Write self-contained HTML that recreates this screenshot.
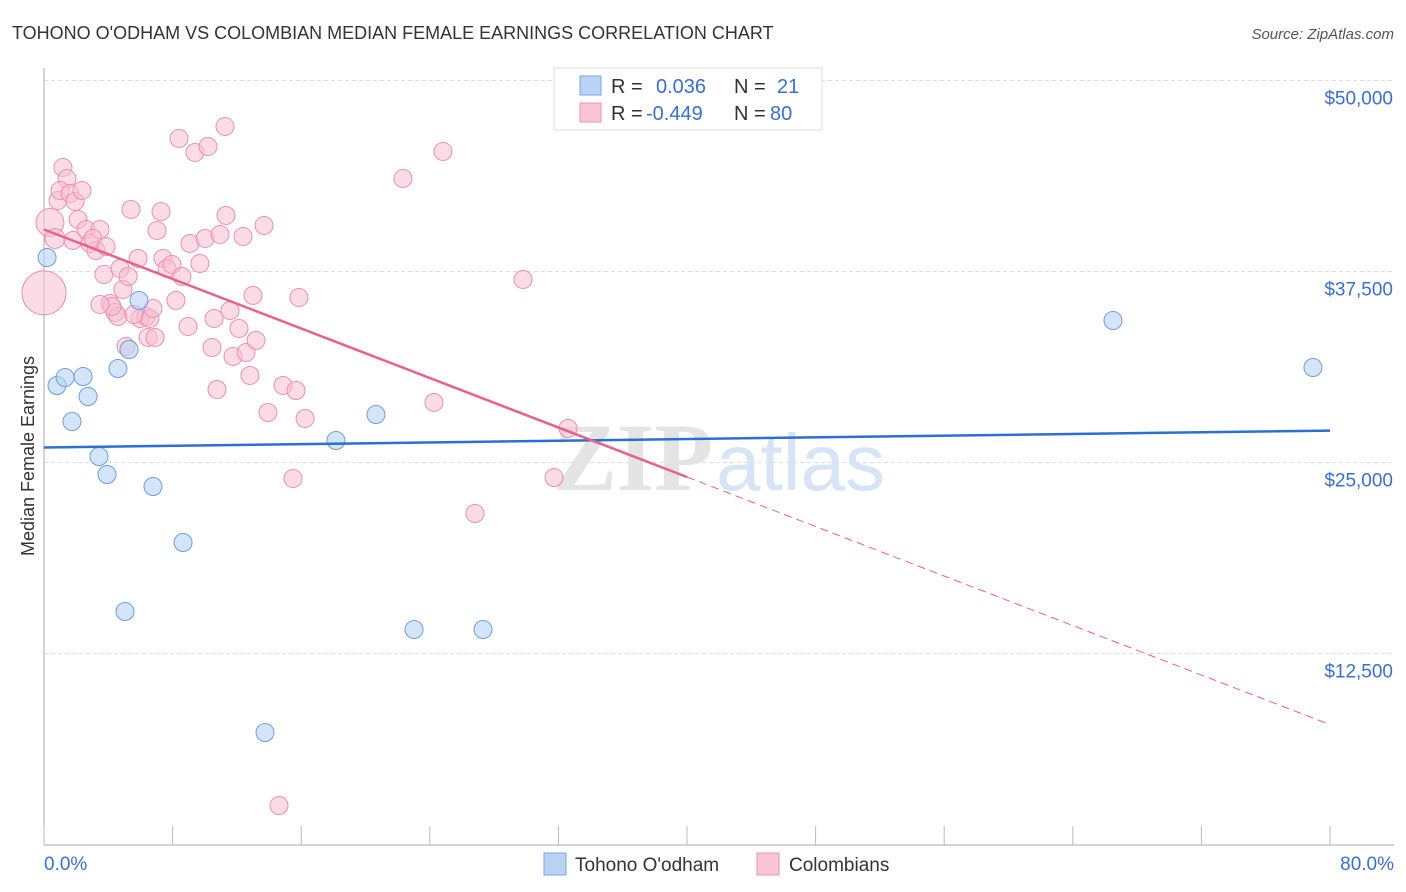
<!DOCTYPE html>
<html><head><meta charset="utf-8"><style>
body{margin:0;background:#fff;font-family:"Liberation Sans",sans-serif;}
svg{display:block}
</style></head><body>
<svg id="chart" width="1406" height="892" xmlns="http://www.w3.org/2000/svg">
<text x="12" y="39" font-size="18" fill="#333">TOHONO O'ODHAM VS COLOMBIAN MEDIAN FEMALE EARNINGS CORRELATION CHART</text>
<text x="1394" y="39" font-size="15" fill="#555" font-style="italic" text-anchor="end">Source: ZipAtlas.com</text>
<g id="grid"></g>
<g id="watermark">
<text x="553" y="490" font-size="96" fill="#e4e4e4" font-family="Liberation Serif,serif" font-weight="bold">ZIP</text>
<text x="716" y="490" font-size="80" fill="#d6e4f5">atlas</text>
</g>
<g id="axes"></g>
<g id="pinkPts"></g>
<g id="bluePts"></g>
<g id="lines"></g>
<text transform="translate(34,456) rotate(-90)" font-size="18" fill="#333" text-anchor="middle">Median Female Earnings</text>
<g>
<rect x="554" y="68" width="268" height="62" fill="#fff" stroke="#ddd"/>
<rect x="580" y="76" width="21" height="19" fill="#b8d3f5" stroke="#7aa6e0"/>
<rect x="580" y="103" width="21" height="19" fill="#fac6d6" stroke="#ee93b0"/>
<text x="611" y="93" font-size="20" fill="#333">R =</text>
<text x="656" y="93" font-size="20" fill="#3a6fd0">0.036</text>
<text x="734" y="93" font-size="20" fill="#333">N =</text>
<text x="777" y="93" font-size="20" fill="#3a6fd0">21</text>
<text x="611" y="120" font-size="20" fill="#333">R =</text>
<text x="646" y="120" font-size="20" fill="#3a6fd0">-0.449</text>
<text x="734" y="120" font-size="20" fill="#333">N =</text>
<text x="770" y="120" font-size="20" fill="#3a6fd0">80</text>
</g>
<g>
<rect x="544" y="853" width="22" height="22" fill="#b8d3f5" stroke="#7aa6e0"/>
<text x="575" y="871" font-size="19" fill="#333">Tohono O'odham</text>
<rect x="757" y="853" width="22" height="22" fill="#fac6d6" stroke="#ee93b0"/>
<text x="789" y="871" font-size="19" fill="#333">Colombians</text>
</g>
</svg>
<script>
const yTicks=[12500,25000,37500,50000];
const yTickLabels=["$12,500","$25,000","$37,500","$50,000"];
const xTicks=[0,8,16,24,32,40,48,56,64,72,80];
const blueX=[0.19,0.81,1.31,1.74,2.43,2.74,3.42,3.92,4.6,5.04,5.29,5.91,6.78,8.65,13.75,18.16,20.65,23.02,27.31,66.5,78.94];
const blueY=[38416,30040,30563,27683,30628,29319,25393,24215,31152,15249,32395,35602,23429,19764,7330,26440,28141,14071,14071,34293,31217];
const pinkX=[0.0,0.37,0.68,0.87,1.18,1.43,1.0,1.62,1.93,2.36,2.12,1.80,2.61,2.86,3.23,3.48,3.05,3.86,3.73,4.11,4.42,4.60,4.73,4.91,5.23,5.41,5.85,5.97,6.35,6.47,6.59,6.78,7.03,7.28,7.40,7.65,7.96,8.21,8.40,8.58,8.96,9.08,9.39,9.70,10.02,10.20,10.45,10.58,10.76,10.95,11.26,11.32,11.57,11.76,12.13,12.38,12.57,12.81,13.0,13.19,13.69,13.93,14.62,14.87,15.49,15.68,15.86,16.24,22.33,24.26,24.82,26.81,29.80,31.73,32.60,5.10,6.91,4.23,3.48,5.60];
const pinkY=[36100,40710,39663,42150,44310,43590,42804,42608,42084,42804,40906,39532,40252,39335,38877,40252,39663,39139,37307,35408,34819,34558,37699,36325,37176,41561,38354,34427,34558,33183,34427,35081,40186,41430,38354,37699,37961,35605,46208,37176,33903,39335,45291,38026,39663,45684,32529,34427,29780,39925,46993,41168,34950,31940,33772,39794,32201,30696,35932,32987,40514,28274,2553,30042,23955,29714,35801,27882,43590,28929,45357,21664,36979,24020,27227,32594,33183,35212,35343,34689];
const pinkSize=[22,14,10];
const blueTrend=[25980,27090];
const pinkTrend=[40250,7850];
const pinkSolidEnd=40;

const NS="http://www.w3.org/2000/svg";
const X=p=>44+p*(1330-44)/80;
const Y=v=>844.5-v*191/12500;
function mk(tag,attrs,parent){const e=document.createElementNS(NS,tag);for(const k in attrs)e.setAttribute(k,attrs[k]);parent.appendChild(e);return e;}
const grid=document.getElementById('grid'),axes=document.getElementById('axes');
yTicks.forEach((v,i)=>{
  const l=mk('line',{x1:44,x2:1394,y1:Y(v),y2:Y(v),stroke:'#ddd','stroke-dasharray':'4,3'},grid);
  
  
  const t=mk('text',{x:1393,y:Y(v)+24,'font-size':19,fill:'#3a6fd0','text-anchor':'end'},axes);
  t.textContent=yTickLabels[i];
  
  
});
const bl=mk('line',{x1:44,x2:1394,y1:845,y2:845,stroke:'#aaa'},axes);


const yl=mk('line',{x1:44,x2:44,y1:68,y2:845,stroke:'#aaa'},axes);


xTicks.forEach(p=>{
  const t=mk('line',{x1:X(p),x2:X(p),y1:826,y2:845,stroke:'#bbb'},axes);
  
  
});
const x0=mk('text',{x:44,y:870,'font-size':19,fill:'#3a6fd0'},axes);x0.textContent='0.0%';


const x1=mk('text',{x:1394,y:870,'font-size':19,fill:'#3a6fd0','text-anchor':'end'},axes);x1.textContent='80.0%';


const pg=document.getElementById('pinkPts');
pinkX.forEach((p,i)=>{
  const c=mk('circle',{cx:X(p),cy:Y(pinkY[i]),r:pinkSize[i]||9,fill:'#f8c0d2','fill-opacity':0.55,stroke:'#ec8fae','stroke-width':1},pg);
  
  
});
const bg=document.getElementById('bluePts');
blueX.forEach((p,i)=>{
  const c=mk('circle',{cx:X(p),cy:Y(blueY[i]),r:9,fill:'#b8d3f5','fill-opacity':0.6,stroke:'#6e9fe0','stroke-width':1},bg);
  
  
});
const lg=document.getElementById('lines');
const pAt=p=>pinkTrend[0]+(pinkTrend[1]-pinkTrend[0])*p/80;
const b=mk('line',{x1:X(0),y1:Y(blueTrend[0]),x2:X(80),y2:Y(blueTrend[1]),stroke:'#2a6fd6','stroke-width':2.5},lg);


const ps=mk('line',{x1:X(0),y1:Y(pAt(0)),x2:X(pinkSolidEnd),y2:Y(pAt(pinkSolidEnd)),stroke:'#e8608c','stroke-width':2.5},lg);


const pd=mk('line',{x1:X(pinkSolidEnd),y1:Y(pAt(pinkSolidEnd)),x2:X(80),y2:Y(pAt(80)),stroke:'#e8608c','stroke-width':1,'stroke-dasharray':'8,5'},lg);


</script>
</body></html>
